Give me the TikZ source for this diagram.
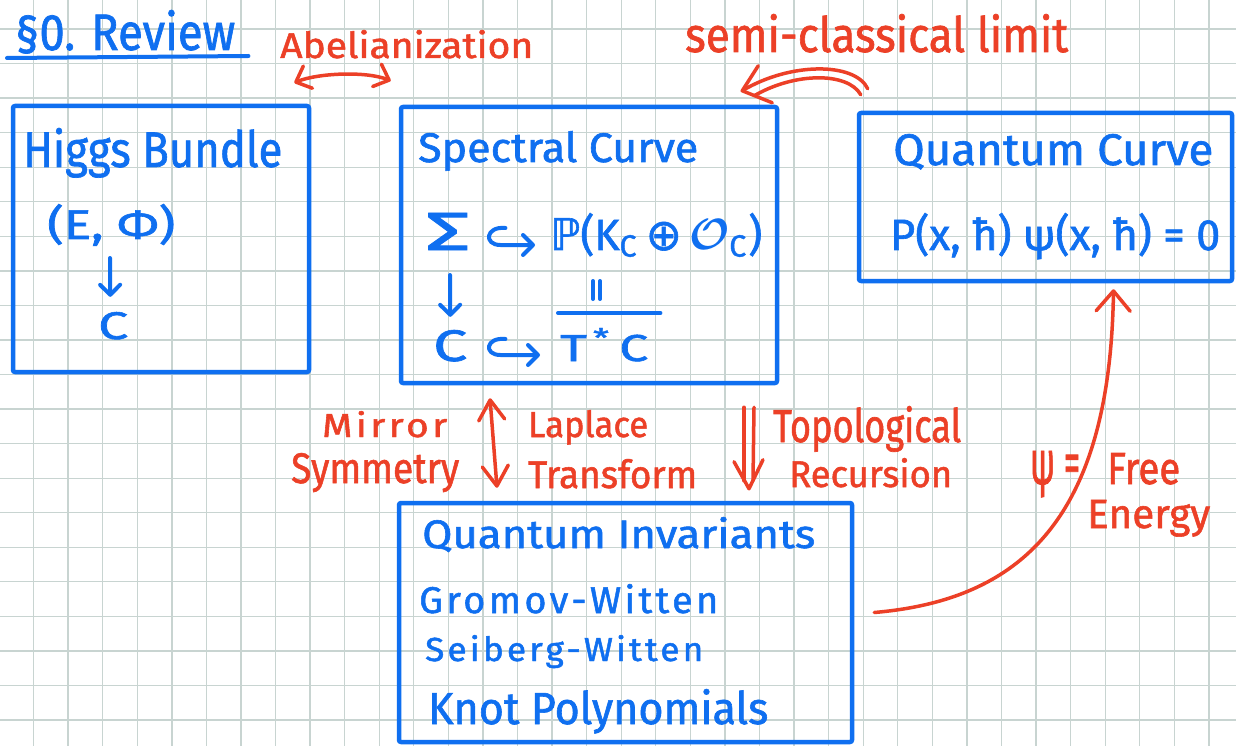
\documentclass[tikz,border=0pt]{standalone}
\usepackage{amsmath,amssymb}
\usepackage{graphicx}
\usepackage{fontspec}
\setmainfont{Fira Sans}[FakeBold=1.4]
\newfontfamily\symf{DejaVu Sans}[FakeBold=1.4]
\usetikzlibrary{arrows.meta,calc}

\definecolor{ink}{RGB}{15,111,240}
\definecolor{pen}{RGB}{236,64,39}
\definecolor{gridc}{RGB}{200,212,209}

% scale a piece of text to a given width and height (in pt)
\newcommand{\fitwh}[3]{\resizebox{#1pt}{#2pt}{#3}}
% loosely spaced lettering
\newcommand{\loose}[1]{{\addfontfeature{LetterSpace=9}#1}}

\tikzset{
  txt/.style={inner sep=0pt, anchor=base west},
  bluetxt/.style={txt, text=ink},
  redtxt/.style={txt, text=pen},
  box/.style={draw=ink, line width=4.5pt, line join=round, rounded corners=2pt, inner sep=0pt},
  blueline/.style={draw=ink, line width=4pt, line cap=round, line join=round},
  redline/.style={draw=pen, line width=3.5pt, line cap=round, line join=round},
  bbarb/.tip={Straight Barb[length=10pt, width=20pt, round]},
  rbarb/.tip={Straight Barb[length=20pt, width=26pt, round]},
  sbarb/.tip={Straight Barb[length=13pt, width=24pt, round]},
  cbarb/.tip={Straight Barb[length=20pt, width=34pt, round]},
  gridline/.style={draw=gridc, line width=1.3pt}
}

\begin{document}
\begin{tikzpicture}[x=1pt, y=-1pt]
  \useasboundingbox (0,0) rectangle (1236,746);
  \fill[white] (0,0) rectangle (1236,746);

  % squared paper
  \foreach \i in {0,...,36}
    \draw[gridline] ({-1+34.57*\i},0) -- ({-1+34.57*\i},746);
  \foreach \j in {0,...,20}
    \draw[gridline] (0,{29+34.55*\j}) -- (1236,{29+34.55*\j});

  % heading
  \node[bluetxt] (title) at (15,50) {\fitwh{220}{40}{§0. Review}};
  \draw[blueline] ($(title.base west)+(-8,8)$) -- ($(title.base east)+(13,6)$);

  % the four boxes
  \node[box, minimum width=296pt, minimum height=266pt] (higgs) at (161,239) {};
  \node[box, minimum width=376pt, minimum height=276pt] (spec) at (589,245) {};
  \node[box, minimum width=373pt, minimum height=168pt] (qcurve) at (1045.5,197) {};
  \node[box, minimum width=453pt, minimum height=239pt] (qinv) at (625.5,622.5) {};

  % Higgs bundle
  \node[bluetxt] (higgsT) at (23,167) {\fitwh{259}{39}{Higgs Bundle}};
  \node[bluetxt] (ephi) at (47,239) {\fitwh{128}{35}{(E, Φ)}};
  \node[bluetxt] (c1) at (98,339) {\fitwh{30}{27}{C}};
  \draw[blueline, -{bbarb}] ($(ephi.base west)+(63,19)$) -- ($(c1.north)+(-3,-15)$);

  % spectral curve
  \node[bluetxt] (specT) at (418,162) {\fitwh{280}{31}{Spectral Curve}};
  \node[bluetxt] (sig) at (425,250) {\fitwh{45}{37}{Σ}};
  \node[bluetxt] (proj) at (550,250) {\fitwh{212}{37}{{\symf ℙ}(K\textsubscript{C}\,{\symf ⊕}\,$\boldsymbol{\mathcal{O}}$\textsubscript{C})}};
  \node[bluetxt] (c2) at (433,361) {\fitwh{34}{31}{C}};
  \node[bluetxt] (tstar) at (560,361) {\fitwh{88}{33}{T\kern0.12em\textsuperscript{*}\kern0.15em C}};
  % hooked inclusions
  \coordinate (h1a) at ($(sig.base east)+(35,-22)$);
  \coordinate (h1b) at ($(proj.base west)+(-15,-5)$);
  \draw[blueline, -{bbarb}] (h1a) .. controls ($(h1a)+(-20,-2)$) and ($(h1a)+(-22,17)$) .. ($(h1a)+(-5,17)$) -- (h1b);
  \coordinate (h2a) at ($(c2.base east)+(38,-22)$);
  \coordinate (h2b) at ($(tstar.base west)+(-20,-6)$);
  \draw[blueline, -{bbarb}] (h2a) .. controls ($(h2a)+(-20,-2)$) and ($(h2a)+(-22,16)$) .. ($(h2a)+(-5,16)$) -- (h2b);
  % projection
  \draw[blueline, -{bbarb}] ($(sig.base west)+(25,25)$) -- ($(c2.north)+(0,-13)$);
  % closure bar and equality
  \draw[blueline] ($(tstar.base west)+(-2,-48)$) -- ($(tstar.base east)+(12,-48)$);
  \draw[blueline] ($(tstar.base west)+(33,-80)$) -- ($(tstar.base west)+(33,-62)$);
  \draw[blueline] ($(tstar.base west)+(40,-80)$) -- ($(tstar.base west)+(40,-62)$);

  % quantum curve
  \node[bluetxt] (qcT) at (893,165) {\fitwh{320}{31}{Quantum Curve}};
  \node[bluetxt] (qeq) at (890,250) {\fitwh{330}{37}{P(x, ħ) ψ(x, ħ) = 0}};

  % quantum invariants
  \node[bluetxt] (qiT) at (422,548) {\fitwh{393}{31}{Quantum Invariants}};
  \node[bluetxt] (gw) at (419,613) {\fitwh{299}{29}{\loose{Gromov-Witten}}};
  \node[bluetxt] (sw) at (425,661) {\fitwh{278}{26}{\loose{Seiberg-Witten}}};
  \node[bluetxt] (kp) at (428,724) {\fitwh{340}{35}{Knot Polynomials}};

  % abelianization
  \node[redtxt] (abel) at (280,58) {\fitwh{253}{28}{Abelianization}};
  \coordinate (abA) at ($(higgs.north east)+(-17,-21)$);
  \coordinate (abB) at ($(spec.north west)+(-8,-24)$);
  \draw[redline, {sbarb}-{sbarb}] (abA) .. controls (318,73) and (366,71) .. (abB);

  % semi-classical limit
  \node[redtxt] (semi) at (685,52) {\fitwh{383}{38}{semi-classical limit}};
  \coordinate (sa) at ($(qcurve.north west)+(11,-22)$);
  \coordinate (sb) at ($(qcurve.north west)+(4,-16)$);
  \coordinate (ta) at ($(spec.north east)+(-37,-14)$);
  \coordinate (tb) at ($(spec.north east)+(-25,-9)$);
  \draw[redline] (sa) .. controls (855,62) and (790,62) .. (ta);
  \draw[redline] (sb) .. controls (848,72) and (795,72) .. (tb);
  \draw[redline] ($(ta)+(16,-25)$) .. controls ($(ta)+(8,-13)$) .. (ta) -- ($(ta)+(30,12)$);

  % mirror symmetry / Laplace transform
  \node[redtxt] (mir1) at (322,437) {\fitwh{125}{26}{\loose{Mirror}}};
  \node[redtxt] (mir2) at (291,483) {\fitwh{168}{30}{Symmetry}};
  \node[redtxt] (lap1) at (528,437) {\fitwh{120}{27}{Laplace}};
  \node[redtxt] (lap2) at (528,488) {\fitwh{169}{29}{Transform}};
  \coordinate (ua) at ($(spec.south)+(-99,13)$);
  \coordinate (ub) at ($(qinv.north)+(-128.5,-13)$);
  \draw[redline, {rbarb}-{rbarb}] (ua) -- (ub);

  % topological recursion
  \node[redtxt] (top1) at (773,442) {\fitwh{188}{36}{Topological}};
  \node[redtxt] (top2) at (789,487) {\fitwh{163}{29}{Recursion}};
  \coordinate (dtop) at ($(spec.south)+(160,22)$);
  \coordinate (dtip) at ($(qinv.north)+(123.5,-12)$);
  \draw[redline] ($(dtop)+(-5,0)$) -- ($(dtip)+(-5,-8)$);
  \draw[redline] ($(dtop)+(5,0)$) -- ($(dtip)+(4,-8)$);
  \draw[redline] ($(dtip)+(-15,-27)$) -- (dtip) -- ($(dtip)+(14,-29)$);

  % wave function = free energy
  \node[redtxt] (psi) at (1030,484) {\fitwh{50}{33}{ψ =}};
  \node[redtxt] (free) at (1107,484) {\fitwh{73}{31}{Free}};
  \node[redtxt] (energy) at (1087,528) {\fitwh{123}{28}{Energy}};
  \coordinate (fa) at ($(qinv.east)+(20,-10)$);
  \coordinate (fb) at ($(qcurve.south)+(68,6)$);
  \draw[redline, -{cbarb}] (fa) .. controls (1020,600) and (1110,520) .. (fb);
\end{tikzpicture}
\end{document}
